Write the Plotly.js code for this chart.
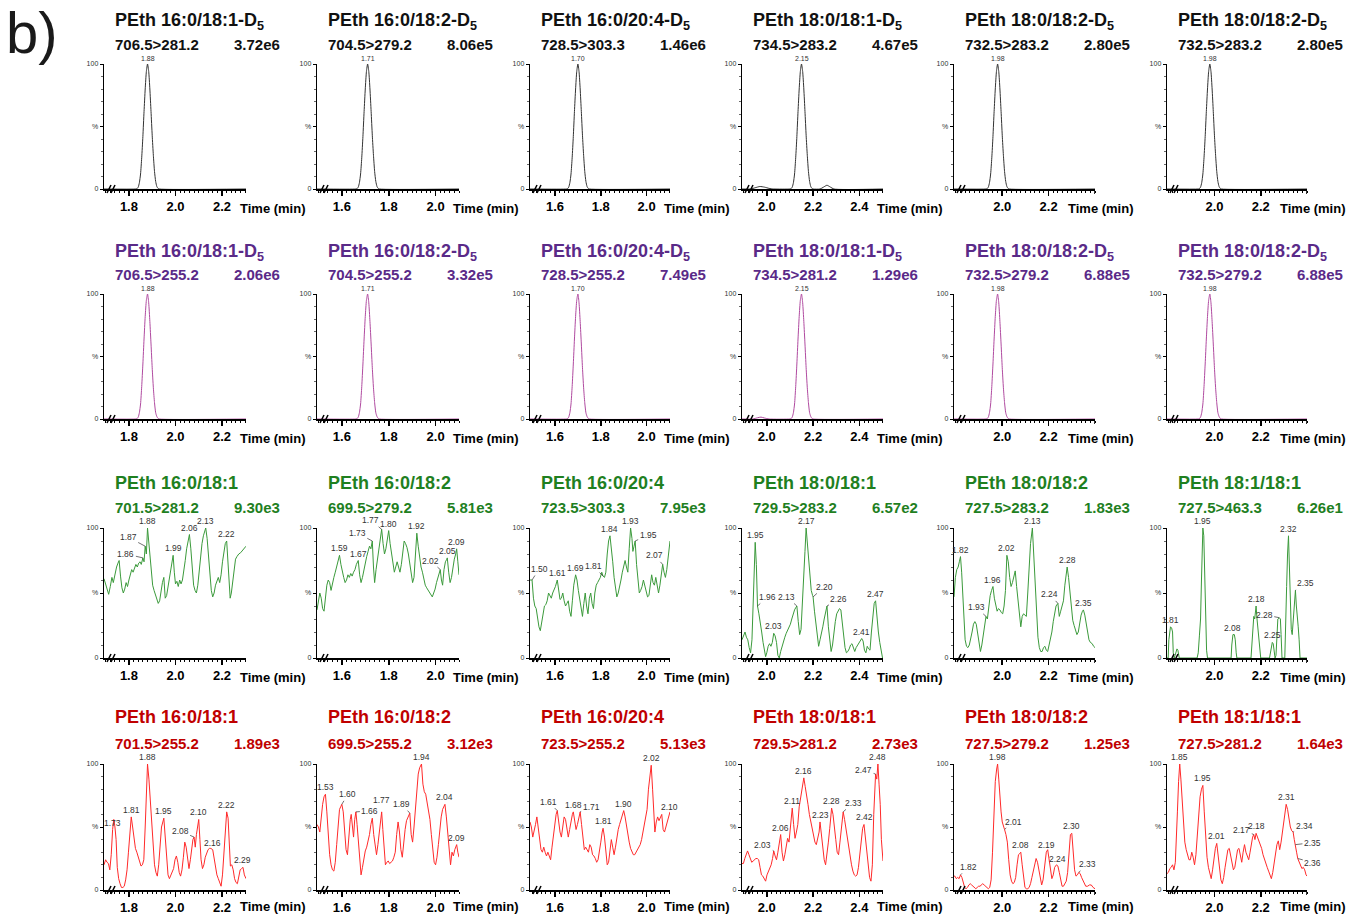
<!DOCTYPE html>
<html><head><meta charset="utf-8">
<script src="https://cdn.plot.ly/plotly-3.0.1.min.js"></script>
<style>html,body{margin:0;padding:0;background:#fff}#chart{width:1356px;height:915px}</style>
</head><body><div id="chart"></div>
<script>
// ---------------- DATA ----------------
const titlesD5 = ['PEth 16:0/18:1-D5','PEth 16:0/18:2-D5','PEth 16:0/20:4-D5','PEth 18:0/18:1-D5','PEth 18:0/18:2-D5','PEth 18:0/18:2-D5'];
const titlesNat = ['PEth 16:0/18:1','PEth 16:0/18:2','PEth 16:0/20:4','PEth 18:0/18:1','PEth 18:0/18:2','PEth 18:1/18:1'];
const transRow1 = ['706.5>281.2','704.5>279.2','728.5>303.3','734.5>283.2','732.5>283.2','732.5>283.2'];
const transRow2 = ['706.5>255.2','704.5>255.2','728.5>255.2','734.5>281.2','732.5>279.2','732.5>279.2'];
const transRow3 = ['701.5>281.2','699.5>279.2','723.5>303.3','729.5>283.2','727.5>283.2','727.5>463.3'];
const transRow4 = ['701.5>255.2','699.5>255.2','723.5>255.2','729.5>281.2','727.5>279.2','727.5>281.2'];
const intRow1 = ['3.72e6','8.06e5','1.46e6','4.67e5','2.80e5','2.80e5'];
const intRow2 = ['2.06e6','3.32e5','7.49e5','1.29e6','6.88e5','6.88e5'];
const intRow3 = ['9.30e3','5.81e3','7.95e3','6.57e2','1.83e3','6.26e1'];
const intRow4 = ['1.89e3','3.12e3','5.13e3','2.73e3','1.25e3','1.64e3'];

const xTickVals = [[1.8,2.0,2.2],[1.6,1.8,2.0],[1.6,1.8,2.0],[2.0,2.2,2.4],[2.0,2.2],[2.0,2.2]];
const xTickText = [['1.8','2.0','2.2'],['1.6','1.8','2.0'],['1.6','1.8','2.0'],['2.0','2.2','2.4'],['2.0','2.2'],['2.0','2.2']];
const xRanges = [[1.693,2.303],[1.494,2.10],[1.491,2.102],[1.893,2.502],[1.792,2.40],[1.795,2.40]];

// [time (min), intensity (%)]
const r1c1 = [[1.693,0],[1.83,0],[1.835,0.3],[1.84,1.5],[1.845,5],[1.85,12],[1.855,25],[1.86,42],[1.865,62],[1.87,80],[1.875,94],[1.88,100],[1.885,94],[1.89,80],[1.895,62],[1.9,43],[1.905,27],[1.91,14],[1.915,6],[1.92,2],[1.925,0.5],[1.93,0],[2.303,0]];
const r1c2 = [[1.494,0],[1.66,0],[1.665,0.3],[1.67,1.5],[1.675,5],[1.68,12],[1.685,25],[1.69,42],[1.695,62],[1.70,80],[1.705,94],[1.71,100],[1.715,94],[1.72,80],[1.725,62],[1.73,43],[1.735,27],[1.74,14],[1.745,6],[1.75,2],[1.755,0.5],[1.76,0],[2.10,0]];
const r1c3 = [[1.491,0],[1.65,0],[1.655,0.3],[1.66,1.5],[1.665,5],[1.67,12],[1.675,25],[1.68,42],[1.685,62],[1.69,80],[1.695,94],[1.70,100],[1.705,94],[1.71,80],[1.715,62],[1.72,43],[1.725,27],[1.73,14],[1.735,6],[1.74,2],[1.745,0.5],[1.75,0],[2.102,0]];
const r1c4 = [[1.893,0],[1.93,0],[1.95,1],[1.97,2],[1.99,1.5],[2.01,0.5],[2.03,0],[2.10,0],[2.105,0.3],[2.11,1.5],[2.115,5],[2.12,12],[2.125,25],[2.13,42],[2.135,62],[2.14,80],[2.145,94],[2.15,100],[2.155,94],[2.16,80],[2.165,62],[2.17,43],[2.175,27],[2.18,14],[2.185,6],[2.19,2],[2.195,0.5],[2.20,0],[2.23,0],[2.245,1.5],[2.26,3],[2.275,1.5],[2.29,0],[2.502,0]];
const r1c5 = [[1.792,0],[1.93,0],[1.935,0.3],[1.94,1.5],[1.945,5],[1.95,12],[1.955,25],[1.96,42],[1.965,62],[1.97,80],[1.975,94],[1.98,100],[1.985,94],[1.99,80],[1.995,62],[2.0,43],[2.005,27],[2.01,14],[2.015,6],[2.02,2],[2.025,0.5],[2.03,0],[2.40,0]];
const r1c6 = [[1.795,0],[1.93,0],[1.935,0.3],[1.94,1.5],[1.945,5],[1.95,12],[1.955,25],[1.96,42],[1.965,62],[1.97,80],[1.975,94],[1.98,100],[1.985,94],[1.99,80],[1.995,62],[2.0,43],[2.005,27],[2.01,14],[2.015,6],[2.02,2],[2.025,0.5],[2.03,0],[2.40,0]];

const r2c1 = [[1.693,0],[1.83,0],[1.835,0.3],[1.84,1.5],[1.845,5],[1.85,12],[1.855,26],[1.86,44],[1.865,64],[1.87,82],[1.875,95],[1.88,100],[1.885,93],[1.89,78],[1.895,60],[1.9,41],[1.905,25],[1.91,13],[1.915,5],[1.92,2],[1.925,0.5],[1.93,0],[2.303,0]];
const r2c2 = [[1.494,0],[1.66,0],[1.665,0.3],[1.67,1.5],[1.675,5],[1.68,12],[1.685,26],[1.69,44],[1.695,64],[1.70,82],[1.705,95],[1.71,100],[1.715,93],[1.72,78],[1.725,60],[1.73,41],[1.735,25],[1.74,13],[1.745,5],[1.75,2],[1.755,0.5],[1.76,0],[2.10,0]];
const r2c3 = [[1.491,0],[1.65,0],[1.655,0.3],[1.66,1.5],[1.665,5],[1.67,12],[1.675,26],[1.68,44],[1.685,64],[1.69,82],[1.695,95],[1.70,100],[1.705,93],[1.71,78],[1.715,60],[1.72,41],[1.725,25],[1.73,13],[1.735,5],[1.74,2],[1.745,0.5],[1.75,0],[2.102,0]];
const r2c4 = [[1.893,0],[1.94,0],[1.96,1],[1.975,1.5],[1.99,0.8],[2.01,0],[2.10,0],[2.105,0.3],[2.11,1.5],[2.115,5],[2.12,12],[2.125,26],[2.13,44],[2.135,64],[2.14,82],[2.145,95],[2.15,100],[2.155,93],[2.16,78],[2.165,60],[2.17,41],[2.175,25],[2.18,13],[2.185,5],[2.19,2],[2.195,0.5],[2.20,0],[2.502,0]];
const r2c5 = [[1.792,0],[1.93,0],[1.935,0.3],[1.94,1.5],[1.945,5],[1.95,12],[1.955,26],[1.96,44],[1.965,64],[1.97,82],[1.975,95],[1.98,100],[1.985,93],[1.99,78],[1.995,60],[2.0,41],[2.005,25],[2.01,13],[2.015,5],[2.02,2],[2.025,0.5],[2.03,0],[2.40,0]];
const r2c6 = [[1.795,0],[1.93,0],[1.935,0.3],[1.94,1.5],[1.945,5],[1.95,12],[1.955,26],[1.96,44],[1.965,64],[1.97,82],[1.975,95],[1.98,100],[1.985,93],[1.99,78],[1.995,60],[2.0,41],[2.005,25],[2.01,13],[2.015,5],[2.02,2],[2.025,0.5],[2.03,0],[2.40,0]];

const r3c1 = [[1.693,61],[1.700,57],[1.707,52],[1.713,49],[1.720,55],[1.727,62],[1.733,58],[1.740,65],[1.747,70],[1.753,73],[1.758,75],[1.764,63],[1.770,54],[1.776,50],[1.782,53],[1.788,58],[1.794,55],[1.800,60],[1.806,65],[1.812,68],[1.818,66],[1.824,70],[1.830,72],[1.836,70],[1.842,73],[1.848,74],[1.853,72],[1.860,77],[1.865,74],[1.870,86],[1.875,80],[1.880,100],[1.885,90],[1.890,76],[1.896,64],[1.902,56],[1.908,52],[1.914,48],[1.920,46],[1.926,42],[1.932,44],[1.938,52],[1.944,58],[1.950,62],[1.956,46],[1.962,48],[1.968,55],[1.974,60],[1.980,70],[1.985,76],[1.990,79],[1.995,66],[2.000,57],[2.006,59],[2.012,55],[2.018,60],[2.024,57],[2.030,60],[2.036,66],[2.042,75],[2.048,84],[2.054,90],[2.060,95],[2.066,84],[2.072,68],[2.078,56],[2.084,52],[2.090,50],[2.096,56],[2.102,68],[2.108,80],[2.114,88],[2.120,94],[2.125,97],[2.130,100],[2.136,92],[2.142,76],[2.148,62],[2.154,52],[2.160,47],[2.166,50],[2.172,56],[2.178,60],[2.184,62],[2.190,58],[2.196,64],[2.202,74],[2.208,82],[2.214,88],[2.220,90],[2.225,72],[2.230,54],[2.235,46],[2.240,50],[2.246,60],[2.252,70],[2.258,76],[2.264,78],[2.272,80],[2.280,81],[2.288,83],[2.296,85],[2.303,86]];
const r3c2 = [[1.494,37],[1.500,44],[1.506,50],[1.512,46],[1.518,38],[1.524,36],[1.530,48],[1.536,56],[1.542,60],[1.548,58],[1.554,52],[1.560,58],[1.566,62],[1.572,66],[1.578,70],[1.584,74],[1.590,79],[1.596,72],[1.602,66],[1.608,62],[1.614,58],[1.620,60],[1.626,64],[1.632,62],[1.638,65],[1.644,63],[1.650,66],[1.656,68],[1.662,72],[1.670,75],[1.676,64],[1.682,58],[1.688,62],[1.694,68],[1.700,72],[1.706,78],[1.712,82],[1.718,86],[1.724,84],[1.730,90],[1.735,70],[1.740,58],[1.746,68],[1.752,76],[1.758,86],[1.764,92],[1.770,99],[1.776,88],[1.782,80],[1.788,84],[1.794,92],[1.800,98],[1.806,88],[1.812,80],[1.818,74],[1.824,66],[1.830,70],[1.836,74],[1.842,70],[1.848,66],[1.854,72],[1.860,82],[1.866,90],[1.872,88],[1.878,85],[1.884,80],[1.890,72],[1.896,64],[1.902,58],[1.908,62],[1.914,82],[1.920,96],[1.926,86],[1.932,76],[1.938,70],[1.944,66],[1.950,60],[1.956,56],[1.962,54],[1.968,52],[1.974,50],[1.980,48],[1.986,47],[1.992,50],[1.998,53],[2.004,58],[2.010,62],[2.015,66],[2.020,68],[2.025,60],[2.030,56],[2.036,68],[2.042,74],[2.048,76],[2.050,77],[2.056,66],[2.062,58],[2.068,62],[2.074,70],[2.080,76],[2.086,80],[2.090,84],[2.095,74],[2.100,64]];
const r3c3 = [[1.491,60],[1.500,60],[1.506,46],[1.512,40],[1.518,38],[1.524,30],[1.530,24],[1.536,21],[1.542,28],[1.548,36],[1.554,40],[1.560,41],[1.566,44],[1.572,50],[1.578,48],[1.584,46],[1.590,50],[1.596,52],[1.602,55],[1.610,60],[1.616,52],[1.622,45],[1.628,46],[1.634,50],[1.640,44],[1.646,40],[1.652,42],[1.658,44],[1.664,36],[1.670,32],[1.676,44],[1.682,56],[1.690,64],[1.696,60],[1.702,52],[1.708,44],[1.714,38],[1.720,32],[1.726,42],[1.732,50],[1.738,40],[1.744,34],[1.750,46],[1.756,50],[1.762,42],[1.768,38],[1.774,50],[1.780,56],[1.786,58],[1.792,60],[1.798,62],[1.804,66],[1.810,63],[1.816,62],[1.822,66],[1.828,80],[1.834,90],[1.840,94],[1.846,86],[1.852,74],[1.858,62],[1.864,52],[1.870,47],[1.876,50],[1.882,54],[1.888,60],[1.894,66],[1.900,72],[1.906,75],[1.912,70],[1.918,66],[1.924,84],[1.930,100],[1.936,92],[1.940,82],[1.945,86],[1.950,90],[1.956,72],[1.962,60],[1.968,50],[1.974,52],[1.980,55],[1.986,60],[1.992,56],[1.998,50],[2.004,47],[2.010,48],[2.016,56],[2.022,64],[2.028,58],[2.034,56],[2.040,62],[2.046,56],[2.052,50],[2.058,56],[2.064,64],[2.070,72],[2.076,66],[2.082,62],[2.088,68],[2.094,76],[2.102,90]];
const r3c4 = [[1.893,14],[1.900,18],[1.906,20],[1.912,16],[1.918,14],[1.924,8],[1.930,4],[1.936,14],[1.942,50],[1.946,76],[1.950,89],[1.955,72],[1.960,40],[1.966,34],[1.972,28],[1.978,20],[1.984,12],[1.990,5],[1.995,1],[2.000,4],[2.006,9],[2.012,11],[2.018,9],[2.024,12],[2.030,19],[2.036,17],[2.042,12],[2.048,2],[2.054,0],[2.060,5],[2.066,9],[2.072,14],[2.078,16],[2.084,19],[2.090,21],[2.096,24],[2.102,26],[2.108,30],[2.114,34],[2.120,37],[2.126,39],[2.130,40],[2.136,28],[2.142,18],[2.148,22],[2.154,40],[2.160,62],[2.165,82],[2.170,100],[2.175,90],[2.180,80],[2.186,62],[2.192,52],[2.198,48],[2.200,47],[2.206,36],[2.212,28],[2.218,16],[2.224,9],[2.230,14],[2.236,18],[2.242,24],[2.248,30],[2.254,36],[2.260,40],[2.266,24],[2.272,12],[2.278,5],[2.284,10],[2.290,20],[2.296,28],[2.302,34],[2.308,36],[2.314,38],[2.320,37],[2.326,28],[2.332,18],[2.338,8],[2.344,4],[2.350,5],[2.356,7],[2.362,10],[2.368,11],[2.374,8],[2.380,5],[2.386,8],[2.392,10],[2.398,12],[2.404,14],[2.410,15],[2.416,13],[2.422,6],[2.428,4],[2.434,9],[2.440,7],[2.446,6],[2.452,20],[2.458,34],[2.464,42],[2.470,44],[2.476,30],[2.482,20],[2.488,12],[2.494,4],[2.500,0]];
const r3c5 = [[1.792,47],[1.798,62],[1.804,68],[1.810,70],[1.815,74],[1.820,78],[1.825,66],[1.830,50],[1.835,26],[1.840,14],[1.846,9],[1.852,8],[1.858,10],[1.864,14],[1.870,20],[1.876,26],[1.882,28],[1.888,26],[1.894,18],[1.900,10],[1.906,5],[1.912,10],[1.918,18],[1.924,26],[1.930,32],[1.936,30],[1.942,40],[1.948,48],[1.954,52],[1.960,55],[1.966,46],[1.972,40],[1.978,36],[1.984,38],[1.990,37],[1.996,35],[2.002,34],[2.008,40],[2.014,52],[2.020,79],[2.026,74],[2.032,62],[2.038,55],[2.044,58],[2.050,63],[2.056,67],[2.062,55],[2.068,45],[2.074,34],[2.080,24],[2.086,32],[2.092,34],[2.098,33],[2.104,32],[2.110,50],[2.116,72],[2.122,88],[2.130,100],[2.136,80],[2.142,58],[2.148,32],[2.154,16],[2.160,8],[2.166,5],[2.172,5],[2.178,8],[2.184,9],[2.190,6],[2.196,5],[2.202,10],[2.208,15],[2.214,20],[2.220,28],[2.226,36],[2.232,40],[2.240,42],[2.246,32],[2.252,36],[2.258,40],[2.264,44],[2.270,56],[2.276,66],[2.280,70],[2.286,62],[2.292,50],[2.298,38],[2.304,29],[2.310,25],[2.316,22],[2.322,18],[2.328,20],[2.334,28],[2.340,33],[2.346,36],[2.350,37],[2.356,33],[2.362,26],[2.368,20],[2.374,14],[2.380,12],[2.388,11],[2.394,9],[2.400,8]];
const r3c6 = [[1.795,0],[1.800,0],[1.803,14],[1.806,22],[1.810,24],[1.815,23],[1.819,20],[1.822,4],[1.826,0],[1.830,2],[1.834,6],[1.838,7],[1.842,6],[1.845,2],[1.848,0],[1.925,0],[1.930,4],[1.935,17],[1.940,30],[1.944,60],[1.947,88],[1.950,100],[1.954,94],[1.958,60],[1.962,25],[1.966,6],[1.970,0],[2.072,0],[2.075,10],[2.078,17],[2.080,18],[2.086,18],[2.090,14],[2.094,4],[2.097,0],[2.158,0],[2.162,14],[2.166,28],[2.170,32],[2.174,30],[2.180,40],[2.184,30],[2.188,22],[2.192,12],[2.196,4],[2.200,0],[2.238,0],[2.242,4],[2.246,10],[2.250,12],[2.254,11],[2.258,4],[2.262,0],[2.266,2],[2.270,20],[2.274,30],[2.280,31],[2.285,30],[2.288,18],[2.292,0],[2.304,0],[2.308,20],[2.312,55],[2.316,80],[2.320,94],[2.324,70],[2.328,38],[2.332,22],[2.336,18],[2.340,30],[2.344,34],[2.350,52],[2.354,40],[2.358,28],[2.362,24],[2.366,14],[2.370,0],[2.400,0]];

const r4c1 = [[1.693,20],[1.700,24],[1.706,22],[1.712,21],[1.718,16],[1.724,28],[1.730,48],[1.735,56],[1.740,50],[1.745,40],[1.750,18],[1.756,9],[1.762,5],[1.768,2],[1.774,2],[1.780,3],[1.786,8],[1.792,16],[1.798,30],[1.804,46],[1.810,58],[1.816,50],[1.822,40],[1.828,33],[1.834,30],[1.840,26],[1.846,24],[1.852,19],[1.858,20],[1.864,24],[1.870,50],[1.875,80],[1.880,100],[1.886,88],[1.892,72],[1.898,50],[1.904,34],[1.910,20],[1.916,14],[1.922,11],[1.928,20],[1.934,34],[1.940,50],[1.950,57],[1.956,44],[1.962,24],[1.968,12],[1.974,9],[1.980,12],[1.986,15],[1.992,17],[1.998,24],[2.004,27],[2.010,22],[2.016,14],[2.022,11],[2.028,16],[2.034,26],[2.040,38],[2.046,34],[2.052,26],[2.058,17],[2.064,24],[2.070,34],[2.075,40],[2.080,42],[2.085,34],[2.090,44],[2.096,52],[2.100,56],[2.105,40],[2.110,24],[2.116,17],[2.122,20],[2.128,26],[2.134,30],[2.140,32],[2.146,33],[2.152,33],[2.160,32],[2.166,24],[2.172,16],[2.178,12],[2.184,9],[2.190,5],[2.196,3],[2.202,12],[2.208,30],[2.214,50],[2.220,62],[2.226,57],[2.232,32],[2.236,19],[2.242,20],[2.248,16],[2.254,9],[2.260,6],[2.266,5],[2.272,12],[2.278,16],[2.284,17],[2.290,18],[2.296,12],[2.303,9]];
const r4c2 = [[1.494,52],[1.500,50],[1.506,46],[1.512,58],[1.518,68],[1.524,74],[1.530,76],[1.536,62],[1.542,44],[1.548,28],[1.554,20],[1.560,16],[1.566,15],[1.572,22],[1.578,36],[1.584,52],[1.590,64],[1.595,66],[1.600,68],[1.606,62],[1.612,50],[1.618,32],[1.624,28],[1.630,44],[1.636,56],[1.640,60],[1.645,50],[1.650,42],[1.655,56],[1.660,62],[1.665,52],[1.670,40],[1.676,20],[1.682,12],[1.688,18],[1.694,26],[1.700,31],[1.706,34],[1.712,38],[1.718,44],[1.724,52],[1.730,57],[1.736,44],[1.742,34],[1.748,28],[1.754,36],[1.760,46],[1.766,56],[1.770,62],[1.775,48],[1.780,30],[1.786,20],[1.792,22],[1.798,23],[1.804,21],[1.810,22],[1.816,23],[1.822,26],[1.828,30],[1.834,44],[1.840,54],[1.846,46],[1.852,32],[1.858,26],[1.864,38],[1.870,48],[1.876,55],[1.884,58],[1.890,61],[1.896,44],[1.902,38],[1.908,50],[1.914,62],[1.920,80],[1.926,92],[1.932,97],[1.940,100],[1.946,84],[1.952,78],[1.958,76],[1.964,70],[1.970,62],[1.976,56],[1.982,44],[1.988,30],[1.994,22],[2.000,20],[2.006,26],[2.012,36],[2.018,48],[2.024,58],[2.030,64],[2.036,67],[2.040,68],[2.046,58],[2.052,44],[2.058,28],[2.064,20],[2.070,30],[2.076,27],[2.082,32],[2.088,35],[2.090,36],[2.095,30],[2.100,26]];
const r4c3 = [[1.491,54],[1.497,50],[1.503,42],[1.509,46],[1.515,52],[1.521,58],[1.527,50],[1.533,42],[1.539,32],[1.545,30],[1.551,34],[1.557,30],[1.563,27],[1.569,30],[1.575,26],[1.581,24],[1.587,34],[1.593,44],[1.599,54],[1.605,60],[1.610,63],[1.616,54],[1.622,46],[1.628,42],[1.634,50],[1.640,58],[1.646,56],[1.652,50],[1.658,42],[1.664,48],[1.670,56],[1.676,60],[1.680,62],[1.686,54],[1.692,48],[1.698,52],[1.704,58],[1.710,62],[1.716,52],[1.722,40],[1.728,32],[1.734,34],[1.740,32],[1.746,30],[1.752,36],[1.758,34],[1.764,28],[1.770,27],[1.776,25],[1.782,22],[1.788,24],[1.794,30],[1.800,38],[1.806,46],[1.810,49],[1.816,42],[1.822,30],[1.828,20],[1.834,22],[1.840,32],[1.846,40],[1.852,34],[1.858,28],[1.864,34],[1.870,42],[1.876,48],[1.882,52],[1.888,56],[1.894,60],[1.900,63],[1.906,58],[1.912,50],[1.918,44],[1.924,38],[1.930,33],[1.936,30],[1.942,28],[1.948,28],[1.954,30],[1.960,32],[1.966,33],[1.972,36],[1.978,40],[1.984,46],[1.990,50],[1.996,56],[2.002,64],[2.008,80],[2.014,92],[2.020,99],[2.026,80],[2.032,56],[2.036,46],[2.042,54],[2.048,58],[2.054,55],[2.060,58],[2.066,60],[2.072,48],[2.078,46],[2.084,50],[2.090,54],[2.096,58],[2.100,60],[2.102,62]];
const r4c4 = [[1.893,21],[1.899,21],[1.905,25],[1.911,28],[1.917,31],[1.923,28],[1.929,25],[1.935,22],[1.941,23],[1.947,24],[1.953,25],[1.959,25],[1.965,24],[1.971,18],[1.977,12],[1.983,11],[1.989,9],[1.995,7],[2.001,12],[2.007,15],[2.013,17],[2.019,20],[2.025,25],[2.030,31],[2.036,27],[2.042,24],[2.048,30],[2.054,38],[2.060,44],[2.066,30],[2.072,23],[2.078,28],[2.084,36],[2.090,41],[2.096,38],[2.102,48],[2.106,58],[2.110,65],[2.116,52],[2.122,41],[2.128,46],[2.134,52],[2.140,66],[2.146,74],[2.152,80],[2.160,89],[2.166,82],[2.172,76],[2.178,68],[2.184,60],[2.190,54],[2.196,48],[2.202,44],[2.208,38],[2.214,36],[2.220,40],[2.226,46],[2.230,54],[2.236,44],[2.242,34],[2.248,24],[2.254,20],[2.260,28],[2.266,38],[2.272,49],[2.280,65],[2.286,60],[2.292,52],[2.298,40],[2.304,30],[2.310,28],[2.316,38],[2.322,50],[2.330,62],[2.336,56],[2.342,48],[2.348,41],[2.354,34],[2.360,28],[2.366,20],[2.372,15],[2.378,12],[2.384,11],[2.390,12],[2.396,18],[2.402,28],[2.408,40],[2.414,49],[2.420,52],[2.426,42],[2.432,28],[2.438,17],[2.444,10],[2.450,7],[2.456,20],[2.462,60],[2.466,84],[2.470,92],[2.475,88],[2.480,100],[2.485,84],[2.490,68],[2.495,40],[2.500,26],[2.502,23]];
const r4c5 = [[1.792,11],[1.796,11],[1.802,9],[1.808,10],[1.814,9],[1.820,12],[1.826,10],[1.832,5],[1.838,2],[1.844,1],[1.850,2],[1.856,4],[1.862,5],[1.868,4],[1.874,3],[1.880,2],[1.886,1],[1.892,2],[1.898,3],[1.904,3],[1.910,4],[1.916,5],[1.922,4],[1.928,3],[1.934,2],[1.940,1],[1.946,2],[1.952,8],[1.958,30],[1.964,62],[1.970,86],[1.976,96],[1.980,100],[1.985,88],[1.990,72],[1.995,62],[2.000,54],[2.005,50],[2.010,48],[2.016,44],[2.022,38],[2.028,24],[2.034,12],[2.040,7],[2.046,5],[2.052,6],[2.058,10],[2.064,20],[2.070,28],[2.076,29],[2.080,30],[2.086,20],[2.092,8],[2.098,2],[2.104,1],[2.110,1],[2.116,2],[2.122,5],[2.128,10],[2.134,16],[2.140,22],[2.146,25],[2.152,22],[2.158,16],[2.164,8],[2.170,4],[2.176,8],[2.182,16],[2.188,26],[2.190,30],[2.196,32],[2.202,24],[2.208,14],[2.214,9],[2.220,12],[2.226,18],[2.234,20],[2.240,19],[2.246,14],[2.252,7],[2.258,3],[2.264,3],[2.270,5],[2.276,7],[2.282,14],[2.288,32],[2.294,44],[2.300,45],[2.306,30],[2.312,16],[2.318,11],[2.324,12],[2.330,14],[2.336,13],[2.342,10],[2.348,8],[2.354,5],[2.360,3],[2.368,3],[2.376,4],[2.384,4],[2.392,2],[2.400,1]];
const r4c6 = [[1.795,13],[1.801,14],[1.807,17],[1.813,18],[1.819,20],[1.825,16],[1.831,22],[1.836,40],[1.840,62],[1.845,86],[1.850,100],[1.855,88],[1.860,70],[1.866,50],[1.872,38],[1.878,32],[1.884,28],[1.890,24],[1.896,24],[1.902,30],[1.908,26],[1.914,20],[1.920,28],[1.926,44],[1.932,62],[1.938,74],[1.944,80],[1.950,83],[1.956,62],[1.962,40],[1.968,26],[1.974,18],[1.980,12],[1.986,9],[1.992,16],[1.998,26],[2.004,33],[2.010,37],[2.016,28],[2.022,16],[2.028,8],[2.034,5],[2.040,10],[2.046,18],[2.052,26],[2.058,32],[2.064,33],[2.070,28],[2.076,22],[2.082,16],[2.088,18],[2.094,26],[2.100,32],[2.106,33],[2.112,28],[2.118,22],[2.124,30],[2.130,36],[2.136,30],[2.142,26],[2.148,24],[2.154,30],[2.160,38],[2.165,42],[2.170,44],[2.175,40],[2.180,45],[2.186,42],[2.192,40],[2.198,36],[2.204,33],[2.210,28],[2.216,24],[2.222,20],[2.228,18],[2.234,15],[2.240,12],[2.246,9],[2.252,14],[2.258,22],[2.264,28],[2.270,36],[2.276,39],[2.282,32],[2.288,38],[2.294,46],[2.300,56],[2.305,64],[2.310,68],[2.316,64],[2.322,56],[2.328,50],[2.334,47],[2.340,46],[2.345,40],[2.350,36],[2.355,30],[2.360,25],[2.366,22],[2.372,19],[2.378,17],[2.384,18],[2.390,16],[2.396,12],[2.400,11]];

// labelled retention times per panel
const peakRow1 = [[1.88],[1.71],[1.70],[2.15],[1.98],[1.98]];
const peakRow2 = [[1.88],[1.71],[1.70],[2.15],[1.98],[1.98]];
const peakRow3 = [[1.86,1.87,1.88,1.99,2.06,2.13,2.22],[1.59,1.67,1.73,1.77,1.80,1.92,2.02,2.05,2.09],[1.50,1.61,1.69,1.81,1.84,1.93,1.95,2.07],[1.95,1.96,2.03,2.13,2.17,2.20,2.26,2.41,2.47],[1.82,1.93,1.96,2.02,2.13,2.24,2.28,2.35],[1.81,1.95,2.08,2.18,2.25,2.28,2.32,2.35]];
const peakRow4 = [[1.73,1.81,1.88,1.95,2.08,2.10,2.16,2.22,2.29],[1.53,1.60,1.66,1.77,1.89,1.94,2.04,2.09],[1.61,1.68,1.71,1.81,1.90,2.02,2.10],[2.03,2.06,2.11,2.16,2.23,2.28,2.33,2.42,2.47,2.48],[1.82,1.98,2.01,2.08,2.19,2.24,2.30,2.33],[1.85,1.95,2.01,2.17,2.18,2.31,2.34,2.35,2.36]];

// ---------------- STYLE / LAYOUT ----------------
const W = 1356, H = 915;
const FONT = 'Liberation Sans, Arial, Helvetica, sans-serif';
const colLeft = [104,317,530,742,954,1167];
const colRight = [246,459,670,883,1095,1307];
const rowTop = [64,294,528,764];
const rowBottom = [189,419,658,890];
const titleY = [21,252,483,717];
const subY = [44,274,507,743];
const timeY = [208,438,677,906];
const titleColor = ['#111111','#5a2a88','#1f801f','#c00000'];
const lineColor = ['#333333','#b04aa0','#3b9a3b','#ff2a2a'];
const labelFont = [7,7,8.5,8.5];
// leader-line offsets (pixels) for peak labels that sit beside their peak
const leaders = {
  '12:1.86':[-17,-4],'12:1.87':[-17,-9],
  '13:1.73':[-15,-8],'13:1.77':[-11,-9],'13:2.02':[-10,-9],
  '14:1.50':[7,-11],'14:1.81':[-10,-10],'14:1.95':[13,-6],'14:2.07':[-8,-9],
  '15:1.96':[10,-9],'15:2.13':[-10,-9],'15:2.20':[11,-10],'15:2.26':[12,-7],
  '16:1.93':[-10,-9],'16:2.24':[-8,-9],
  '17:2.28':[-15,-3],'17:2.35':[10,-7],
  '18:2.08':[-14,-6],
  '19:1.60':[6,-10],'19:1.66':[14,-1],'19:1.89':[-8,-9],
  '20:1.61':[-9,-9],'20:1.71':[11,-5],
  '21:2.03':[-11,-6],'21:2.33':[10,-9],'21:2.47':[-12,-4],
  '22:1.82':[8,-8],'22:2.01':[9,-8],'22:2.33':[9,-8],
  '23:2.17':[-12,-5],'23:2.34':[11,-6],'23:2.35':[17,-2],'23:2.36':[15,4]
};
// extra lift (px) for plain labels crowded by neighbours
const lifts = {'19:1.77':5};

const titles = [titlesD5, titlesD5, titlesNat, titlesNat];
const trans = [transRow1, transRow2, transRow3, transRow4];
const ints = [intRow1, intRow2, intRow3, intRow4];
const series = [r1c1,r1c2,r1c3,r1c4,r1c5,r1c6, r2c1,r2c2,r2c3,r2c4,r2c5,r2c6,
                r3c1,r3c2,r3c3,r3c4,r3c5,r3c6, r4c1,r4c2,r4c3,r4c4,r4c5,r4c6];
const peaks = [peakRow1, peakRow2, peakRow3, peakRow4];

function px(x){ return x / W; }
function py(y){ return 1 - y / H; }
function esc(s){ return s.replace(/>/g,'&gt;'); }
function valAt(s, t){
  for (let i = 0; i < s.length - 1; i++){
    if (t >= s[i][0] && t <= s[i+1][0]){
      const f = (t - s[i][0]) / (s[i+1][0] - s[i][0] || 1);
      return s[i][1] + f * (s[i+1][1] - s[i][1]);
    }
  }
  return 0;
}

const traces = [];
const layout = {
  width: W, height: H,
  margin: {l:0, r:0, t:0, b:0},
  paper_bgcolor: '#ffffff', plot_bgcolor: '#ffffff',
  showlegend: false,
  font: {family: FONT, color: '#000'},
  annotations: [],
  shapes: []
};

layout.annotations.push({text:'b)', xref:'paper', yref:'paper', x:px(4), y:py(-2), xanchor:'left', yanchor:'top',
  showarrow:false, font:{family:FONT, size:58, color:'#1a1a1a'}});

for (let r = 0; r < 4; r++){
  for (let c = 0; c < 6; c++){
    const i = r*6 + c;
    const n = i + 1;
    const xa = n === 1 ? 'xaxis' : 'xaxis' + n;
    const ya = n === 1 ? 'yaxis' : 'yaxis' + n;
    const xr = n === 1 ? 'x' : 'x' + n;
    const yr = n === 1 ? 'y' : 'y' + n;
    const s = series[i];
    traces.push({
      x: s.map(p => p[0]), y: s.map(p => p[1]),
      xaxis: xr, yaxis: yr, type: 'scatter', mode: 'lines',
      line: {color: lineColor[r], width: 1, shape: r < 2 ? 'spline' : 'linear', smoothing: 0.6},
      hoverinfo: 'skip'
    });
    layout[xa] = {
      domain: [px(colLeft[c]), px(colRight[c])],
      range: xRanges[c], anchor: yr,
      showgrid: false, zeroline: false,
      showline: true, linecolor: '#000', linewidth: 1.6,
      tickmode: 'array', tickvals: xTickVals[c], ticktext: xTickText[c],
      ticks: 'outside', ticklen: 5, tickwidth: 1.6, tickcolor: '#000',
      tickfont: {family: FONT, size: 13, color: '#000', weight: 'bold'},
      minor: {tickmode: 'linear', tick0: 1.4, dtick: 0.02, ticks: 'outside', ticklen: 2.5, tickwidth: 1, tickcolor: '#000'},
      fixedrange: true
    };
    layout[ya] = {
      domain: [py(rowBottom[r]), py(rowTop[r])],
      range: [0, 100], anchor: xr,
      showgrid: false, zeroline: false,
      showline: true, linecolor: '#000', linewidth: 1.3,
      tickmode: 'array', tickvals: [0, 50, 100], ticktext: ['0', '%', '100'],
      ticks: 'outside', ticklen: 3, tickwidth: 1, tickcolor: '#000',
      tickfont: {family: FONT, size: 7, color: '#333'},
      minor: {tickmode: 'linear', tick0: 0, dtick: 10, ticks: 'outside', ticklen: 2, tickwidth: 0.8, tickcolor: '#444'},
      fixedrange: true
    };
    // unlabelled major tick at the end of the last two columns' axes
    if (c >= 4){
      layout.shapes.push({type:'line', xref:xr, yref:'paper', x0:2.4, x1:2.4,
        y0:py(rowBottom[r]), y1:py(rowBottom[r] + 5), line:{color:'#000', width:1.6}});
    }

    // headers
    const tt = titles[r][c].replace(/-D5$/, '-D<sub>5</sub>');
    layout.annotations.push({text:'<b>' + tt + '</b>', xref:'paper', yref:'paper',
      x:px(colLeft[c] + 9), y:py(titleY[r]), xanchor:'left', yanchor:'middle', showarrow:false,
      font:{family:FONT, size:18, color:titleColor[r]}});
    layout.annotations.push({text:'<b>' + esc(trans[r][c]) + '</b>', xref:'paper', yref:'paper',
      x:px(colLeft[c] + 9), y:py(subY[r]), xanchor:'left', yanchor:'middle', showarrow:false,
      font:{family:FONT, size:15, color:titleColor[r]}});
    layout.annotations.push({text:'<b>' + ints[r][c] + '</b>', xref:'paper', yref:'paper',
      x:px(colLeft[c] + 178), y:py(subY[r]), xanchor:'right', yanchor:'middle', showarrow:false,
      font:{family:FONT, size:15, color:titleColor[r]}});

    // time label
    const late = c >= 4;
    layout.annotations.push({text:'<b>Time (min)</b>', xref:'paper', yref:'paper',
      x:px(late ? colRight[c] + 6 : colRight[c] - 8), y:py(timeY[r]),
      xanchor: late ? 'center' : 'left', yanchor:'middle', showarrow:false,
      font:{family:FONT, size:13, color:'#000'}});

    // axis break mark "//"
    const bx = colLeft[c], by = rowBottom[r];
    [[3,7],[7,11]].forEach(([a,b]) => {
      layout.shapes.push({type:'line', xref:'paper', yref:'paper',
        x0:px(bx + a), y0:py(by + 4), x1:px(bx + b), y1:py(by - 4),
        line:{color:'#000', width:1.5}});
    });

    // peak labels
    peaks[r][c].forEach(rt => {
      const key = i + ':' + rt.toFixed(2);
      const yv = valAt(s, rt);
      const base = {text: rt.toFixed(2), xref: xr, yref: yr, x: rt, y: yv,
        font: {family: FONT, size: labelFont[r], color: '#333'}};
      if (leaders[key]){
        layout.annotations.push(Object.assign(base, {showarrow: true, arrowhead: 0, arrowwidth: 0.7,
          arrowcolor: '#333', ax: leaders[key][0], ay: leaders[key][1], standoff: 0}));
      } else {
        layout.annotations.push(Object.assign(base, {showarrow: false, xanchor: 'center', yanchor: 'bottom',
          yshift: lifts[key] || 0}));
      }
    });
  }
}

Plotly.newPlot('chart', traces, layout, {staticPlot: true, displayModeBar: false});
</script></body></html>
